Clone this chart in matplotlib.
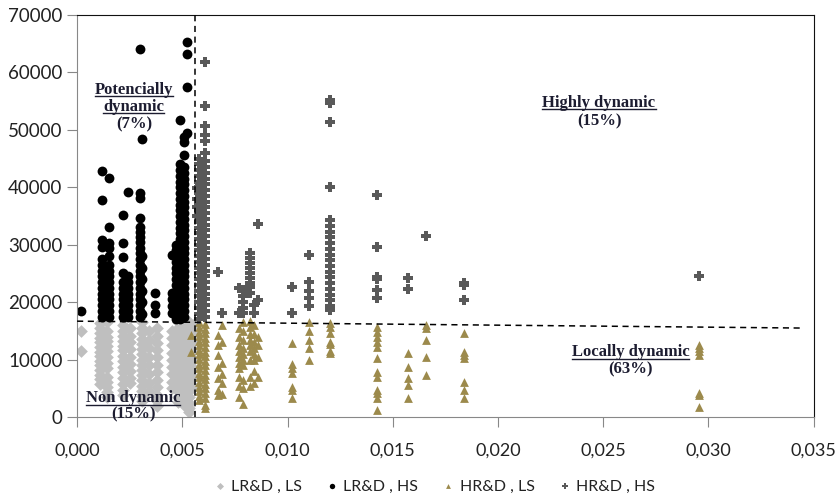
import numpy as np
import matplotlib
matplotlib.use("Agg")
import matplotlib.pyplot as plt
from matplotlib.lines import Line2D

# --- Data: columns of points (x position, list of y values) ---
# LR&D , LS  (light grey diamonds)
lr_ls_x = [0.0002, 0.0011, 0.0014, 0.0022, 0.0025, 0.0031, 0.0034, 0.0038,
           0.0045, 0.0048, 0.0051, 0.0053, 0.0055]
lr_ls_y = [
    [15000, 11500],
    [16300, 15500, 14600, 13800, 13000, 12200, 11400, 10600, 9800, 9000, 8200, 7400, 6600, 5800],
    [16500, 15000, 14000, 13200, 12300, 11500, 10500, 9500, 8500, 7000, 6200, 5200, 4300, 3500],
    [16000, 15000, 14100, 13300, 12400, 11600, 10700, 9800, 8800, 7800, 6800, 5800, 4800, 3900],
    [15500, 14200, 13000, 11800, 10500, 9200, 8000, 6800, 6000],
    [16500, 15500, 14600, 13600, 12700, 11800, 10900, 10000, 9100, 8200, 7300, 6400, 5500, 4600, 3700, 2800],
    [15000, 13500, 12000, 10500, 9000, 7500, 6000, 4500],
    [15500, 14100, 12900, 11700, 10400, 9100, 7800, 6500, 5200, 3900, 2800, 2000],
    [15000, 13800, 12500, 11200, 10000, 8800, 7500, 6200, 5000],
    [16500, 15500, 14500, 13500, 12500, 11500, 10500, 9500, 8500, 7500, 6500, 5500, 4500, 3500, 2600],
    [16500, 15600, 14700, 13800, 12900, 12000, 11100, 10200, 9300, 8400, 7500, 6600, 5700, 4800, 3900, 3000, 2100],
    [16500, 15500, 14500, 13500, 12500, 11500, 10500, 9500, 8500, 7500, 6500, 5500, 4500, 3500, 2500, 1600, 900],
    [16000, 14500, 13000, 11500, 10000, 8500, 7000, 5500],
]

# LR&D , HS  (black dots)
lr_hs_x = [0.0002, 0.0012, 0.0015, 0.0022, 0.0024, 0.0030, 0.0031, 0.0037,
           0.0045, 0.0047, 0.0049, 0.0051, 0.0052]
lr_hs_y = [
    [18500],
    [17500, 18500, 19500, 20500, 21500, 22500, 23500, 24500, 25500, 26500, 27500, 29600, 30800, 37800, 42900],
    [17500, 18500, 19500, 20500, 21500, 22500, 23500, 24500, 25500, 26500, 28000, 29500, 30300, 33100, 41600],
    [17500, 18500, 19500, 20500, 21500, 22500, 23500, 25100, 27900, 30300, 35200],
    [17500, 18500, 19500, 20500, 21500, 22500, 23500, 24500, 39200],
    [17500, 18500, 19500, 20500, 21500, 22500, 23500, 24500, 25500, 26500, 27500, 28500,
     29500, 30500, 31300, 32300, 33100, 34700, 38200, 39000, 64100],
    [18000, 20000, 22000, 24000, 26000, 28000, 48400],
    [18200, 19500, 21600],
    [18100, 19300, 20500, 21600, 28200],
    [17000, 18000, 19000, 20000, 21000, 22000, 23000, 24000, 25000, 26000, 27000, 28000, 29000, 30000],
    [17000, 18000, 19000, 20000, 21000, 22000, 23000, 24000, 25000, 26000, 27000, 28000, 29000, 30000,
     31000, 32000, 33000, 34000, 35000, 36000, 37000, 38000, 39000, 40000, 41000, 42000, 43000, 44000, 51700],
    [17500, 18500, 19500, 20500, 21500, 22500, 23500, 24500, 25500, 26500, 27500, 28500, 29500, 30500,
     31500, 32500, 33500, 34500, 35500, 36500, 37500, 38500, 39500, 40500, 41500, 42500, 43500,
     45600, 47800, 48800],
    [49500, 57500, 63200, 65200],
]

# HR&D , LS  (olive triangles)
hr_ls_x = [0.0054, 0.0058, 0.0061, 0.0067, 0.0069, 0.0077, 0.0079, 0.0082, 0.0084, 0.0086,
           0.0102, 0.0110, 0.0120, 0.01425, 0.0157, 0.01657, 0.01838, 0.02953]
hr_ls_y = [
    [14300, 11300],
    [16500, 15700, 14900, 14100, 13300, 12500, 11700, 10900, 10100, 9300, 8500, 7700, 6900, 6100, 5300, 4500, 3700, 2900],
    [16200, 15400, 14600, 13800, 13000, 12200, 11400, 10600, 9800, 9000, 8200, 7400, 6600, 5800, 5000, 4200, 3400, 2100, 1600],
    [14300, 12500, 10800, 8700, 6800, 4700, 3800],
    [16000, 13000, 9500, 7500, 6000, 4000],
    [15500, 14000, 12500, 11500, 10500, 9500, 8500, 7000, 5500, 3500],
    [16500, 15000, 13500, 12000, 11000, 10000, 9000, 6500, 5000, 2300],
    [16700, 15700, 14500, 13500, 12500, 11500, 10000, 7000, 5500],
    [16000, 14500, 13000, 12000, 11000, 10000, 8000, 6000],
    [14000, 12500, 10500, 7000],
    [12900, 9200, 8500, 7700, 5200, 4800, 3300],
    [16500, 15000, 13500, 12000, 10000],
    [16400, 15700, 14700, 13000, 12800, 11500, 11100],
    [15700, 14800, 13900, 13100, 12200, 10300, 7800, 7000, 4700, 4200, 3300, 1200],
    [11100, 8700, 6800, 5600, 3300],
    [16000, 15500, 13400, 10500, 7300],
    [14600, 11300, 10800, 10300, 6100, 4700, 3300],
    [12500, 12000, 11500, 10800, 4200, 3800, 1800],
]

# HR&D , HS  (dark grey plus)
hr_hs_x = [0.0057, 0.0058, 0.0061, 0.0067, 0.0069, 0.0077, 0.0079, 0.0082, 0.0084, 0.0086,
           0.0102, 0.0110, 0.0120, 0.01425, 0.0157, 0.01657, 0.01838, 0.02953]
hr_hs_y = [
    [35000, 36500, 38000, 39900],
    [17000, 18000, 19000, 20000, 21000, 22000, 23000, 24000, 25000, 26000, 27000, 28000, 29000, 30000,
     31000, 32000, 33000, 34000, 35000, 36000, 37000, 38000, 39000, 40000, 41000, 42000, 43000, 44000, 45000],
    [17500, 18500, 19500, 20500, 21500, 22500, 23500, 24500, 25500, 26500, 27500, 28500, 29500, 30500,
     31500, 32500, 33500, 34500, 35500, 36500, 37500, 38500, 39500, 40500, 41500, 42500, 43500, 44500,
     46000, 48000, 49100, 50700, 54200, 61800],
    [25300],
    [18100],
    [22500, 18100],
    [22100, 21000, 20000, 19000, 18100],
    [28600, 27700, 26800, 26000, 25100, 24200, 23300, 22600, 21600],
    [19500, 18100],
    [33600, 20400],
    [22600, 18100],
    [28200, 23500, 22000, 20800, 19300],
    [55200, 54700, 51400, 40100, 34300, 33300, 32300, 31300, 30300, 29300, 28300, 27300, 26300,
     25300, 24300, 23300, 22300, 21300, 20300, 19300, 18600],
    [38700, 29600, 24400, 24000, 22100, 20700],
    [24200, 22300],
    [31500],
    [23300, 23000, 20400],
    [24600],
]

series_names = ["LR&D , LS", "LR&D , HS", "HR&D , LS", "HR&D , HS"]
x_ticks = [0.000, 0.005, 0.010, 0.015, 0.020, 0.025, 0.030, 0.035]
x_tick_labels = ["0,000", "0,005", "0,010", "0,015", "0,020", "0,025", "0,030", "0,035"]
y_ticks = [0, 10000, 20000, 30000, 40000, 50000, 60000, 70000]

# boundaries of the four zones
v_split = 0.0056
h_split_x = [0.0, 0.0345]
h_split_y = [16700, 15500]


def flatten(xs, ys):
    px, py = [], []
    for x, col in zip(xs, ys):
        for v in col:
            px.append(x)
            py.append(v)
    return px, py


plt.rcParams["font.family"] = ["Lato", "DejaVu Sans"]

fig = plt.figure(figsize=(8.38, 4.96), dpi=100)
ax = fig.add_axes([0.092, 0.159, 0.879, 0.811])

styles = [
    dict(marker="D", color="#BFBFBF", s=42),
    dict(marker="o", color="#000000", s=50),
    dict(marker="^", color="#9C8A4C", s=40),
    dict(marker="P", color="#595959", s=48),
]
data = [(lr_ls_x, lr_ls_y), (lr_hs_x, lr_hs_y), (hr_ls_x, hr_ls_y), (hr_hs_x, hr_hs_y)]
for (xs, ys), st, name in zip(data, styles, series_names):
    px, py = flatten(xs, ys)
    ax.scatter(px, py, marker=st["marker"], color=st["color"], s=st["s"],
               linewidths=0, label=name, zorder=2)

# zone lines
ax.plot([v_split, v_split], [0, 70000], color="black", linestyle="--", linewidth=1.1,
        dashes=(4, 3), zorder=3)
ax.plot(h_split_x, h_split_y, color="black", linestyle="--", linewidth=1.1,
        dashes=(4, 3), zorder=3)

ax.set_xlim(0, 0.035)
ax.set_ylim(0, 70000)
ax.set_xticks(x_ticks)
ax.set_xticklabels(x_tick_labels)
ax.set_yticks(y_ticks)
ax.set_yticklabels([str(v) for v in y_ticks])
ax.tick_params(axis="both", direction="out", length=7, color="#888888",
               labelcolor="#222222")
ax.tick_params(axis="y", labelsize=13.5)
ax.tick_params(axis="x", labelsize=13, pad=11)

for side in ["left", "bottom"]:
    ax.spines[side].set_color("#888888")
for side in ["top", "right"]:
    ax.spines[side].set_color("#111111")

# zone labels
label_kw = dict(family="Liberation Serif", weight="bold", fontsize=12,
                color="#1c1c30", ha="center", va="center", zorder=5)
underlined = []
underlined.append(ax.text(0.0027, 57000, "Potencially", **label_kw))
underlined.append(ax.text(0.0027, 54000, "dynamic", **label_kw))
ax.text(0.0027, 50900, "(7%)", **label_kw)
underlined.append(ax.text(0.0248, 54700, "Highly dynamic", **label_kw))
ax.text(0.0248, 51500, "(15%)", **label_kw)
underlined.append(ax.text(0.0263, 11300, "Locally dynamic", **label_kw))
ax.text(0.0263, 8300, "(63%)", **label_kw)
underlined.append(ax.text(0.00266, 3300, "Non dynamic", **label_kw))
ax.text(0.00266, 400, "(15%)", **label_kw)

leg = fig.legend(loc="center", bbox_to_anchor=(0.516, 0.019), ncol=4, frameon=False,
                 fontsize=11.5, handletextpad=0.1, columnspacing=1.3, markerscale=0.55,
                 handlelength=1.2, labelcolor="#222222")

# underline the zone names
fig.canvas.draw()
renderer = fig.canvas.get_renderer()
inv = fig.transFigure.inverted()
for t in underlined:
    bb = t.get_window_extent(renderer)
    (x0, y0), (x1, y1) = inv.transform([(bb.x0, bb.y0 + 1.5), (bb.x1, bb.y0 + 1.5)])
    fig.add_artist(Line2D([x0, x1], [y0, y1], transform=fig.transFigure,
                          color="#1c1c30", linewidth=1.0, zorder=6))

fig.savefig("out.png", dpi=100)
